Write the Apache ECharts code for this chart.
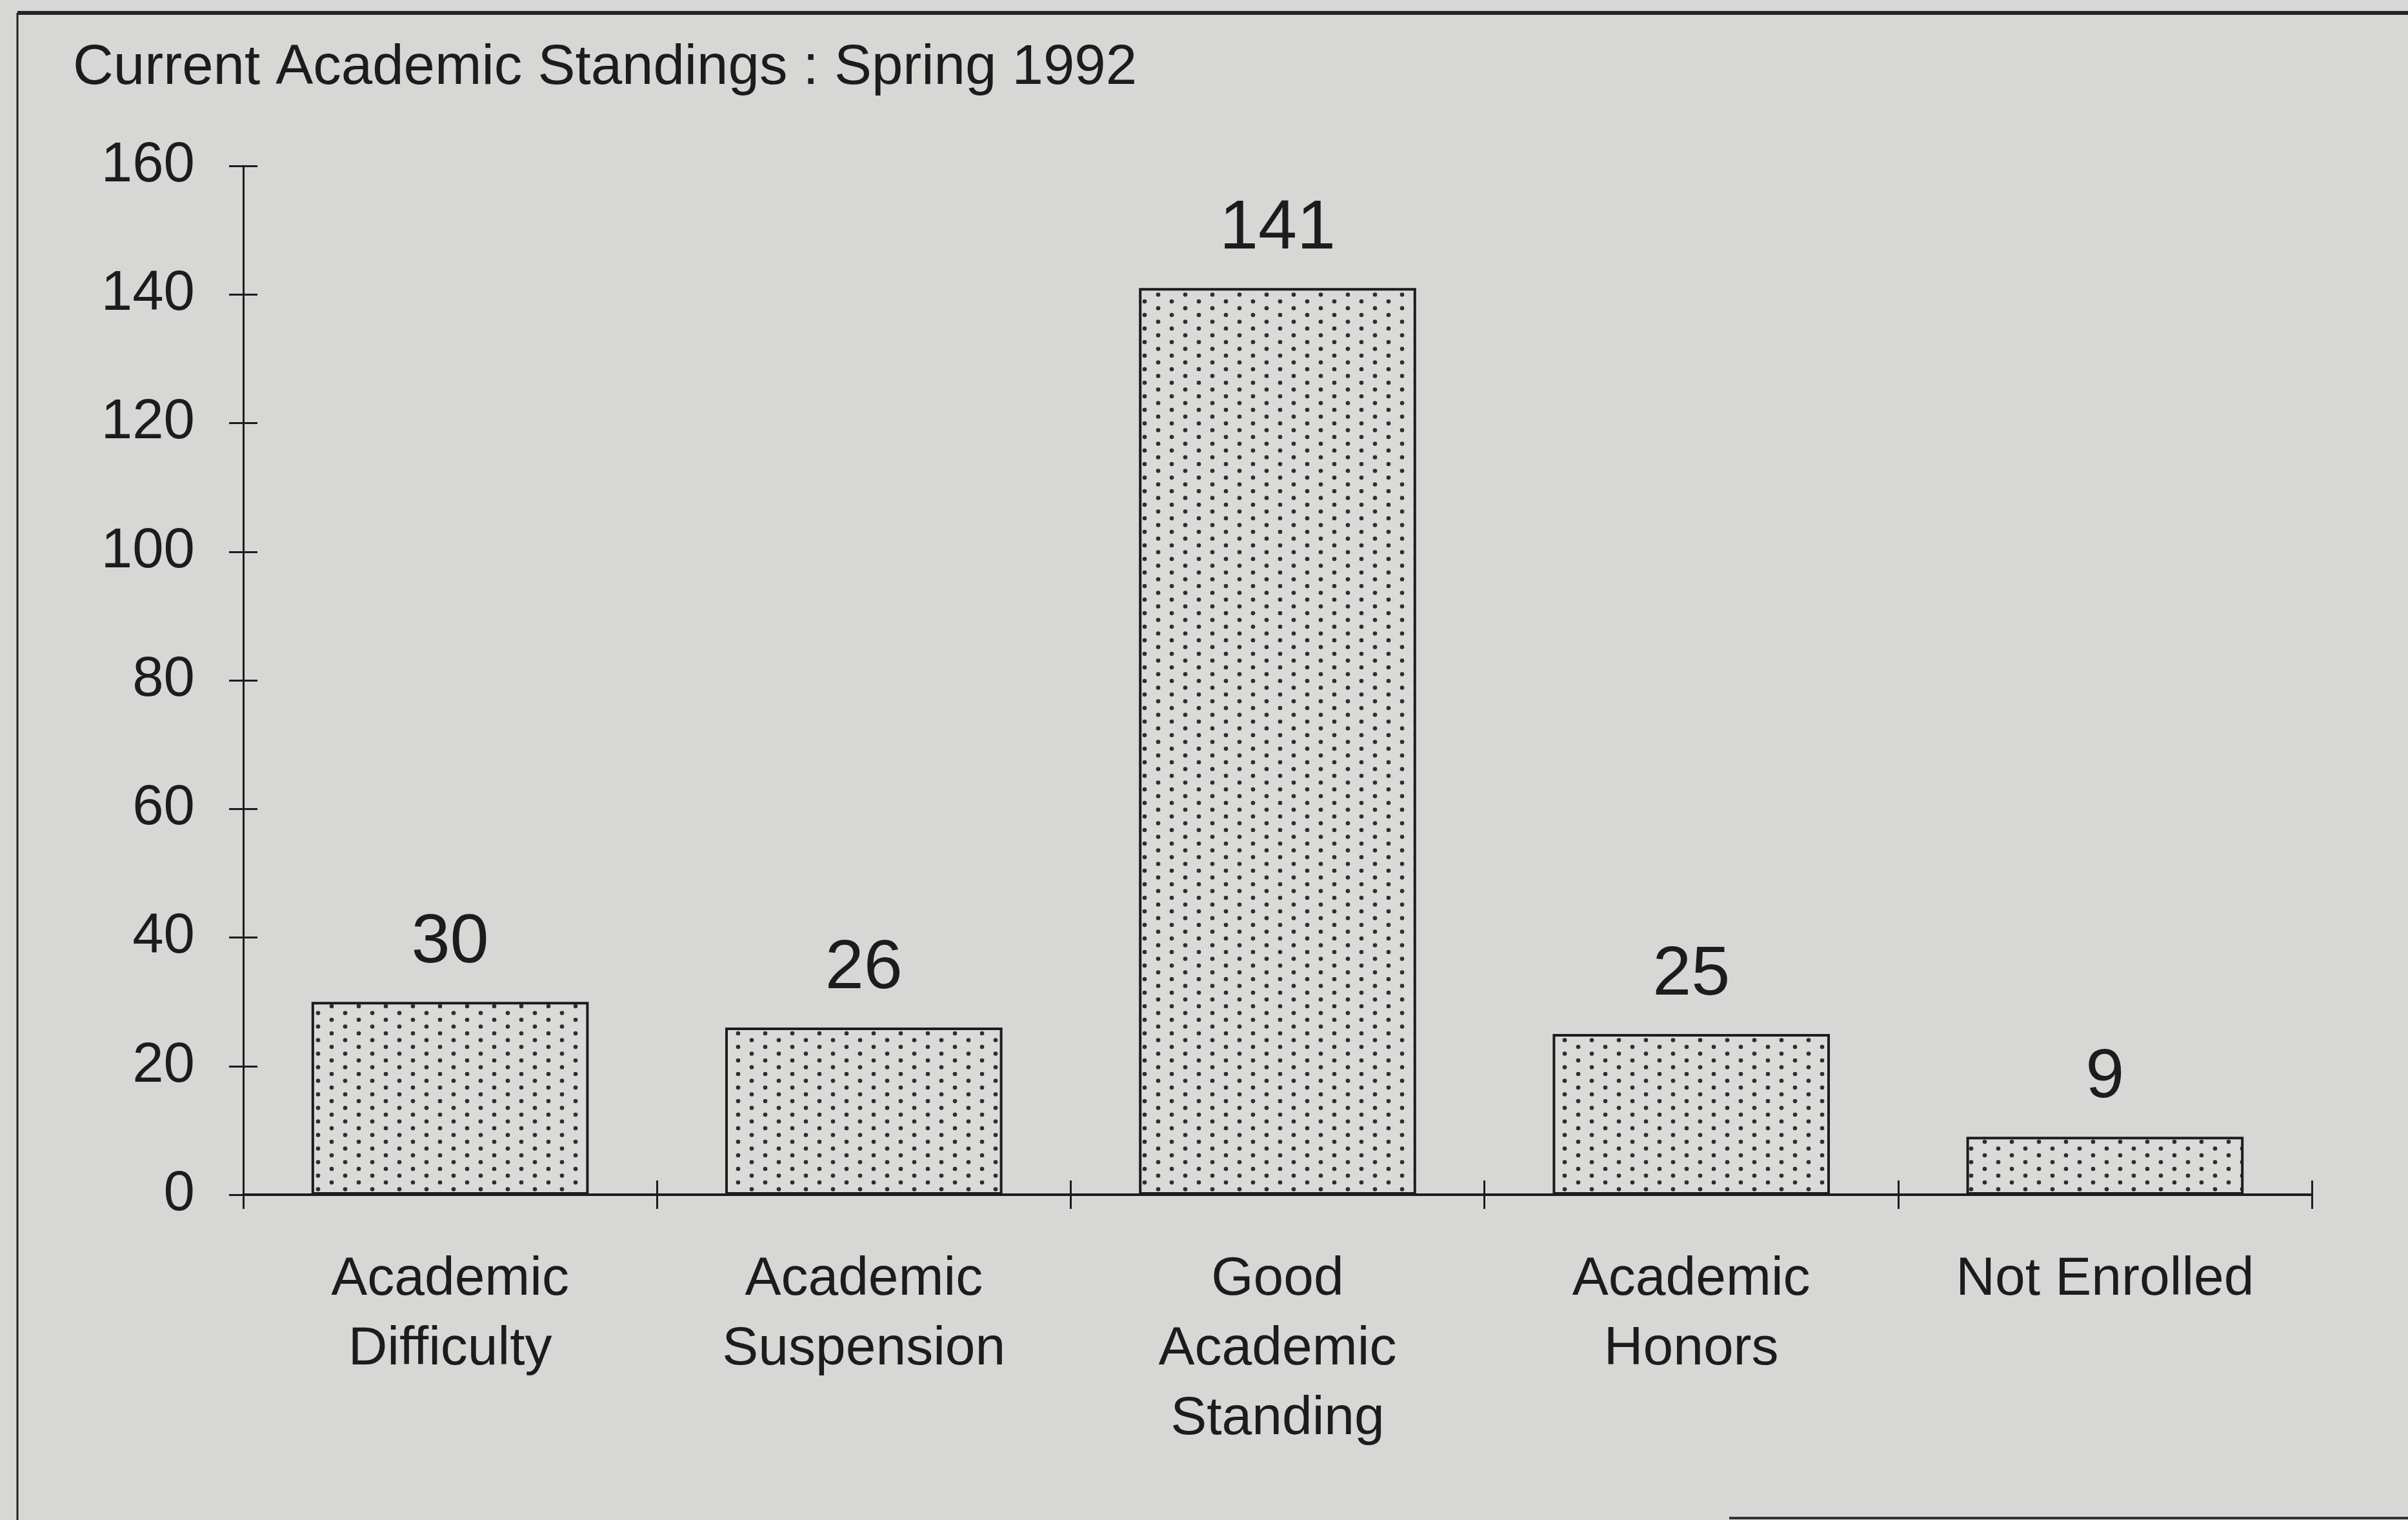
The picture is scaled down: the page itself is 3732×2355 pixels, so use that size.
<!DOCTYPE html>
<html>
<head>
<meta charset="utf-8">
<title>Current Academic Standings : Spring 1992</title>
<script src="https://cdn.jsdelivr.net/npm/echarts@6/dist/echarts.min.js"></script>
<style>
  html, body { margin: 0; padding: 0; background: #d7d7d5; }
  #chart { width: 3732px; height: 2355px; }
</style>
</head>
<body>
<div id="chart"></div>
<script>
// data
var categories = [
  "Academic\nDifficulty",
  "Academic\nSuspension",
  "Good\nAcademic\nStanding",
  "Academic\nHonors",
  "Not Enrolled"
];
var counts = [30, 26, 141, 25, 9];
var yTicks = [0, 20, 40, 60, 80, 100, 120, 140, 160];

var ink = "#1c1c1c";
var font = "'Liberation Sans', Arial, sans-serif";

// staggered dot screen used as the bar fill
function dotPattern() {
  var c = document.createElement("canvas");
  c.width = 42;
  c.height = 21;
  var ctx = c.getContext("2d");
  ctx.fillStyle = "#dadad8";
  ctx.fillRect(0, 0, 42, 21);
  ctx.fillStyle = "#2e2e2e";
  [[10, 5], [31, 15.5]].forEach(function (p) {
    ctx.beginPath();
    ctx.arc(p[0], p[1], 3.3, 0, Math.PI * 2);
    ctx.fill();
  });
  return c;
}

var chart = echarts.init(document.getElementById("chart"));

var yBase = {
  type: "value",
  min: yTicks[0],
  max: yTicks[yTicks.length - 1],
  interval: yTicks[1] - yTicks[0],
  position: "left",
  splitLine: { show: false }
};

var xBase = {
  type: "category",
  data: categories,
  position: "bottom",
  boundaryGap: true
};

chart.setOption({
  backgroundColor: "#d7d7d5",
  animation: false,
  title: {
    text: "Current Academic Standings : Spring 1992",
    left: 108,
    top: 58,
    textStyle: { fontFamily: font, fontSize: 87, fontWeight: "normal", color: ink }
  },
  grid: { left: 377, right: 149, top: 257, bottom: 504, containLabel: false },
  xAxis: [
    Object.assign({}, xBase, {
      axisLine: { lineStyle: { color: ink, width: 4 } },
      axisTick: { show: true, inside: false, length: 22, lineStyle: { color: ink, width: 3 } },
      axisLabel: {
        interval: 0,
        margin: 78,
        fontFamily: font,
        fontSize: 84,
        lineHeight: 108,
        color: ink
      }
    }),
    // second copy only to draw the upper half of the crossing ticks
    Object.assign({}, xBase, {
      axisLine: { show: false },
      axisTick: { show: true, inside: true, length: 22, lineStyle: { color: ink, width: 3 } },
      axisLabel: { show: false }
    })
  ],
  yAxis: [
    Object.assign({}, yBase, {
      axisLine: { show: true, lineStyle: { color: ink, width: 3 } },
      axisTick: { show: true, inside: false, length: 22, lineStyle: { color: ink, width: 3 } },
      axisLabel: { margin: 75, fontFamily: font, fontSize: 87, color: ink }
    }),
    Object.assign({}, yBase, {
      axisLine: { show: false },
      axisTick: { show: true, inside: true, length: 22, lineStyle: { color: ink, width: 3 } },
      axisLabel: { show: false }
    })
  ],
  series: [
    {
      name: "Students",
      type: "bar",
      xAxisIndex: 0,
      yAxisIndex: 0,
      data: counts,
      barWidth: "67%",
      itemStyle: {
        color: { image: dotPattern(), repeat: "repeat" },
        borderColor: ink,
        borderWidth: 4
      },
      label: {
        show: true,
        position: "top",
        distance: 37,
        fontFamily: font,
        fontSize: 108,
        color: ink
      }
    }
  ],
  graphic: [
    // frame of the original figure box
    { type: "line", shape: { x1: 27, y1: 20, x2: 3732, y2: 20 }, style: { stroke: "#222", lineWidth: 6 } },
    { type: "line", shape: { x1: 27, y1: 20, x2: 27, y2: 2355 }, style: { stroke: "#222", lineWidth: 3 } },
    { type: "line", shape: { x1: 2680, y1: 2352, x2: 3732, y2: 2352 }, style: { stroke: "#333", lineWidth: 4 } }
  ]
});
</script>
</body>
</html>
